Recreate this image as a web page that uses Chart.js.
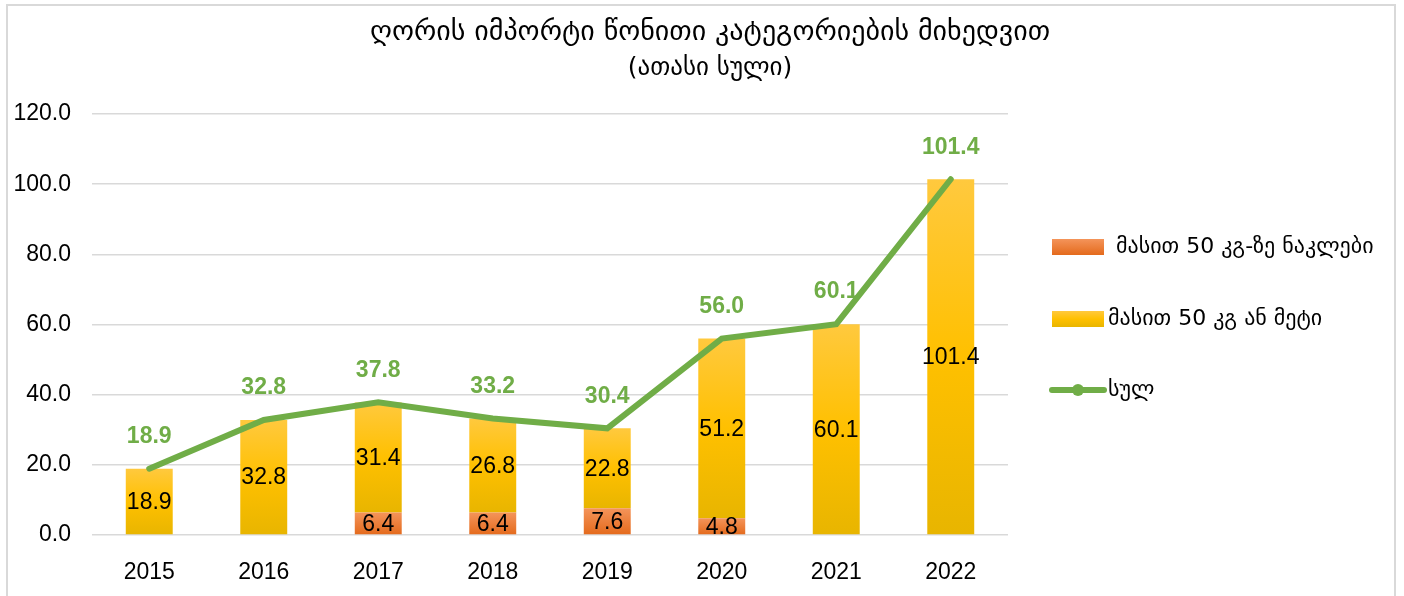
<!DOCTYPE html>
<html lang="ka">
<head>
    <meta charset="UTF-8">
    <title>ღორის იმპორტი წონითი კატეგორიების მიხედვით</title>
    <script src="https://cdn.jsdelivr.net/npm/chart.js"></script>
    <style>
        html, body { margin: 0; padding: 0; background: #fff; }
        .wrap { position: relative; width: 1404px; height: 596px; }
        .frame { position: absolute; left: 6px; top: 4px; width: 1390px; height: 600px;
                 border: 2px solid #D9D9D9; pointer-events: none; box-sizing: border-box; }
    </style>
</head>
<body>
<div class="wrap">
    <canvas id="chartCanvas" width="1404" height="596"></canvas>
    <div class="frame"></div>
</div>
<script>
    // მონაცემები
    const years = ['2015', '2016', '2017', '2018', '2019', '2020', '2021', '2022'];
    const under50 = [null, null, 6.4, 6.4, 7.6, 4.8, null, null];
    const over50 = [18.9, 32.8, 31.4, 26.8, 22.8, 51.2, 60.1, 101.4];
    const total = [18.9, 32.8, 37.8, 33.2, 30.4, 56.0, 60.1, 101.4];
    const seriesNames = ['მასით 50 კგ-ზე ნაკლები', 'მასით 50 კგ ან მეტი', 'სულ'];
    const yTicks = [0, 20, 40, 60, 80, 100, 120];
    const titleText = 'ღორის იმპორტი წონითი კატეგორიების მიხედვით';
    const subtitleText = '(ათასი სული)';

    const numFont = "'Liberation Sans', Arial, 'DejaVu Sans', sans-serif";
    const geoFont = "'DejaVu Sans', sans-serif";
    const green = '#70AD47';

    function yellowGrad(ctx, top, bottom) {
        const g = ctx.createLinearGradient(0, top, 0, bottom);
        g.addColorStop(0, '#FFC93E');
        g.addColorStop(0.5, '#FFC000');
        g.addColorStop(1, '#E8B500');
        return g;
    }
    function orangeGrad(ctx, top, bottom) {
        const g = ctx.createLinearGradient(0, top, 0, bottom);
        g.addColorStop(0, '#F4945A');
        g.addColorStop(1, '#E46A1C');
        return g;
    }

    // градиент на каждый столбик
    function barFill(kind) {
        return function (c) {
            const chart = c.chart;
            if (!chart.chartArea || !chart.scales.y) return kind === 'o' ? '#ED7D31' : '#FFC000';
            const i = c.dataIndex;
            const y = chart.scales.y;
            const base = kind === 'o' ? 0 : (under50[i] || 0);
            const val = kind === 'o' ? (under50[i] || 0) : (over50[i] || 0);
            const top = y.getPixelForValue(base + val);
            const bottom = y.getPixelForValue(base);
            return kind === 'o' ? orangeGrad(chart.ctx, top, bottom) : yellowGrad(chart.ctx, top, bottom);
        };
    }

    // заголовок по центру всего холста
    const pageTitle = {
        id: 'pageTitle',
        afterDraw(chart) {
            const ctx = chart.ctx;
            ctx.save();
            ctx.fillStyle = '#000';
            ctx.textAlign = 'center';
            ctx.textBaseline = 'middle';
            ctx.font = '28px ' + geoFont;
            ctx.fillText(titleText, 710, 33);
            ctx.font = '25px ' + geoFont;
            ctx.fillText(subtitleText, 710, 68);
            ctx.restore();
        }
    };

    // подписи значений
    const valueLabels = {
        id: 'valueLabels',
        afterDatasetsDraw(chart) {
            const ctx = chart.ctx;
            ctx.save();
            ctx.textAlign = 'center';
            ctx.textBaseline = 'middle';
            chart.data.datasets.forEach((ds, di) => {
                const meta = chart.getDatasetMeta(di);
                meta.data.forEach((el, i) => {
                    const v = ds.data[i];
                    if (v == null) return;
                    if (ds.type === 'line') {
                        ctx.font = 'bold 23px ' + numFont;
                        ctx.fillStyle = green;
                        ctx.fillText(v.toFixed(1), el.x, el.y - 32);
                    } else {
                        ctx.font = '23px ' + numFont;
                        ctx.fillStyle = '#000';
                        ctx.fillText(v.toFixed(1), el.x, (el.y + el.base) / 2 + 1);
                    }
                });
            });
            ctx.restore();
        }
    };

    // легенда справа
    const sideLegend = {
        id: 'sideLegend',
        afterDraw(chart) {
            const ctx = chart.ctx;
            ctx.save();
            ctx.font = '22px ' + geoFont;
            ctx.fillStyle = '#000';
            ctx.textBaseline = 'middle';
            ctx.textAlign = 'left';

            ctx.fillStyle = orangeGrad(ctx, 239, 255);
            ctx.fillRect(1052, 239, 52, 16);
            ctx.fillStyle = '#000';
            ctx.fillText(seriesNames[0], 1116, 247);

            ctx.fillStyle = yellowGrad(ctx, 311, 327);
            ctx.fillRect(1052, 311, 52, 16);
            ctx.fillStyle = '#000';
            ctx.fillText(seriesNames[1], 1108, 319);

            ctx.strokeStyle = green;
            ctx.lineWidth = 6;
            ctx.lineCap = 'round';
            ctx.beginPath();
            ctx.moveTo(1052, 390);
            ctx.lineTo(1104, 390);
            ctx.stroke();
            ctx.beginPath();
            ctx.fillStyle = green;
            ctx.arc(1078, 390, 6, 0, Math.PI * 2);
            ctx.fill();
            ctx.fillStyle = '#000';
            ctx.fillText(seriesNames[2], 1108, 390);
            ctx.restore();
        }
    };

    const ctx1 = document.getElementById('chartCanvas').getContext('2d');
    new Chart(ctx1, {
        data: {
            labels: years,
            datasets: [
                {
                    type: 'line',
                    label: seriesNames[2],
                    data: total,
                    borderColor: green,
                    borderWidth: 6,
                    borderCapStyle: 'round',
                    pointRadius: 0,
                    tension: 0,
                    stack: 'line',
                    order: 0
                },
                {
                    type: 'bar',
                    label: seriesNames[0],
                    data: under50,
                    backgroundColor: barFill('o'),
                    stack: 'bars',
                    order: 1,
                    categoryPercentage: 1,
                    barPercentage: 0.41
                },
                {
                    type: 'bar',
                    label: seriesNames[1],
                    data: over50,
                    backgroundColor: barFill('y'),
                    stack: 'bars',
                    order: 1,
                    categoryPercentage: 1,
                    barPercentage: 0.41
                }
            ]
        },
        options: {
            responsive: false,
            animation: false,
            layout: { padding: { left: 0, right: 396, top: 114, bottom: 0 } },
            plugins: {
                legend: { display: false },
                tooltip: { enabled: false },
                title: { display: false }
            },
            scales: {
                x: {
                    stacked: true,
                    grid: { display: false },
                    border: { display: false },
                    ticks: { color: '#000', padding: 16, font: { family: numFont, size: 23 } },
                    afterFit(scale) { scale.height = 61; }
                },
                y: {
                    stacked: true,
                    min: 0,
                    max: 120,
                    afterBuildTicks(scale) { scale.ticks = yTicks.map(v => ({ value: v })); },
                    grid: { color: '#D9D9D9', lineWidth: 1.5, drawTicks: false },
                    border: { display: false },
                    ticks: {
                        color: '#000',
                        padding: 21,
                        font: { family: numFont, size: 23 },
                        callback: v => Number(v).toFixed(1)
                    },
                    afterFit(scale) { scale.width = 92; }
                }
            }
        },
        plugins: [valueLabels, sideLegend, pageTitle]
    });
</script>
</body>
</html>
